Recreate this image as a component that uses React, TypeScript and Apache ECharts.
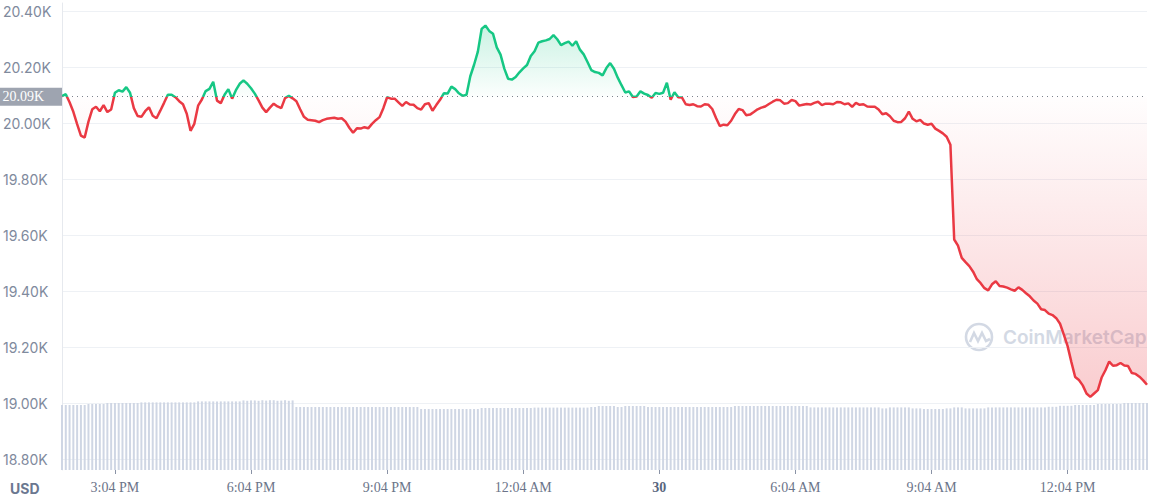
import React, { useEffect, useRef } from "react";
import * as echarts from "echarts";

// ---- data ----
const START_MINUTE = 834; // 13:54 on the 29th (minutes since midnight)
const STEP_MINUTES = 5;
const BASELINE = 20094; // opening price of the window

const PRICES = [
  20096, 20103, 20074, 20040, 19996, 19955, 19948, 20005, 20049, 20058,
  20042, 20064, 20039, 20048, 20108, 20117, 20112, 20128, 20108, 20053,
  20025, 20022, 20042, 20056, 20026, 20017, 20044, 20072, 20101, 20101,
  20092, 20078, 20067, 20033, 19972, 19997, 20062, 20084, 20114, 20122,
  20147, 20080, 20071, 20101, 20121, 20087, 20117, 20140, 20152, 20140,
  20124, 20105, 20081, 20055, 20039, 20055, 20069, 20059, 20053, 20089,
  20097, 20088, 20078, 20049, 20022, 20012, 20010, 20008, 20003, 20010,
  20015, 20017, 20019, 20015, 20017, 20005, 19983, 19965, 19981, 19980,
  19985, 19981, 19997, 20010, 20021, 20053, 20092, 20087, 20087, 20074,
  20061, 20075, 20066, 20065, 20053, 20048, 20067, 20071, 20044, 20064,
  20083, 20106, 20105, 20130, 20121, 20106, 20097, 20101, 20167, 20208,
  20255, 20336, 20348, 20329, 20319, 20270, 20244, 20194, 20158, 20155,
  20164, 20181, 20195, 20207, 20239, 20256, 20287, 20292, 20295, 20300,
  20314, 20299, 20278, 20285, 20291, 20276, 20292, 20262, 20245, 20218,
  20189, 20182, 20179, 20170, 20196, 20214, 20194, 20162, 20135, 20109,
  20113, 20093, 20095, 20113, 20105, 20100, 20090, 20107, 20104, 20108,
  20144, 20083, 20110, 20092, 20091, 20067, 20064, 20067, 20060, 20059,
  20067, 20065, 20050, 20018, 19989, 19994, 19992, 20008, 20032, 20050,
  20046, 20028, 20030, 20039, 20049, 20055, 20059, 20068, 20076, 20083,
  20081, 20069, 20071, 20082, 20078, 20062, 20065, 20068, 20066, 20072,
  20076, 20064, 20069, 20069, 20067, 20075, 20074, 20067, 20070, 20058,
  20072, 20065, 20067, 20059, 20058, 20058, 20048, 20031, 20035, 20024,
  20008, 20003, 20004, 20017, 20041, 20015, 20006, 20011, 19998, 19994,
  19997, 19980, 19972, 19963, 19951, 19922, 19584, 19562, 19518, 19503,
  19489, 19469, 19442, 19428, 19410, 19402, 19424, 19435, 19418, 19416,
  19412, 19406, 19401, 19413, 19404, 19392, 19381, 19366, 19355, 19335,
  19332, 19319, 19314, 19303, 19283, 19244, 19203, 19146, 19093, 19082,
  19063, 19034, 19022, 19034, 19046, 19091, 19117, 19148, 19133, 19135,
  19143, 19134, 19132, 19107, 19104, 19094, 19081, 19065,
];

// 24h volume, billions USD
const VOLUMES_B = [
  32.5, 32.5, 32.5, 32.5, 32.5, 32.5, 32.5, 33.0, 33.0, 33.0,
  33.0, 33.0, 33.5, 33.5, 33.5, 33.5, 33.5, 33.5, 33.5, 33.5,
  33.5, 33.8, 33.8, 33.8, 33.8, 33.8, 33.8, 33.8, 33.8, 33.8,
  33.8, 33.8, 33.8, 33.8, 33.8, 33.8, 34.3, 34.3, 34.3, 34.3,
  34.3, 34.3, 34.3, 34.3, 34.3, 34.3, 34.3, 34.3, 34.8, 34.6,
  34.8, 34.8, 34.6, 34.9, 34.7, 34.9, 34.9, 34.6, 34.7, 34.9,
  34.6, 34.8, 31.5, 31.5, 31.5, 31.5, 31.5, 31.5, 31.5, 31.5,
  31.5, 31.5, 31.5, 31.5, 31.5, 31.5, 31.5, 31.5, 31.5, 31.5,
  31.5, 31.5, 31.5, 31.5, 31.5, 31.5, 31.5, 31.5, 31.5, 31.5,
  31.5, 31.5, 31.5, 31.5, 31.5, 30.5, 30.5, 30.5, 30.5, 30.5,
  30.5, 30.5, 30.5, 30.5, 30.5, 30.5, 30.5, 30.5, 30.5, 30.5,
  30.5, 31.0, 31.0, 31.0, 31.0, 31.0, 31.0, 31.0, 31.0, 31.0,
  31.0, 31.0, 31.0, 31.0, 31.0, 31.2, 31.2, 31.2, 31.2, 31.2,
  31.2, 31.2, 31.2, 31.2, 31.2, 31.2, 31.2, 31.2, 31.2, 31.2,
  31.5, 31.5, 32.0, 32.0, 32.0, 32.0, 32.0, 31.5, 31.5, 32.0,
  32.0, 32.0, 32.0, 32.0, 32.0, 31.5, 31.5, 31.5, 31.5, 31.5,
  31.5, 31.5, 31.5, 31.5, 31.5, 31.5, 31.5, 31.5, 31.5, 31.5,
  31.5, 31.5, 31.5, 31.5, 31.5, 31.5, 31.5, 31.5, 32.0, 32.0,
  32.0, 32.0, 32.0, 32.0, 32.0, 32.0, 32.0, 32.0, 32.0, 32.0,
  32.0, 32.0, 32.0, 32.0, 32.0, 32.0, 32.0, 32.0, 31.3, 31.3,
  31.3, 31.3, 31.3, 31.3, 31.3, 31.3, 31.3, 31.3, 31.3, 31.3,
  31.3, 31.3, 31.3, 31.3, 31.3, 31.3, 31.3, 30.8, 30.8, 31.3,
  31.3, 31.3, 31.3, 31.3, 31.3, 30.8, 30.8, 30.8, 30.5, 30.5,
  30.5, 30.5, 30.5, 30.5, 30.8, 30.8, 31.3, 31.3, 31.3, 30.8,
  30.8, 30.8, 30.8, 30.8, 30.8, 31.3, 31.3, 31.3, 31.3, 31.3,
  31.3, 31.3, 31.3, 31.3, 31.3, 31.3, 31.3, 31.3, 31.3, 31.3,
  31.3, 31.6, 31.6, 31.6, 32.1, 32.1, 32.1, 32.1, 32.5, 32.5,
  32.5, 32.5, 32.5, 32.5, 33.0, 33.0, 33.0, 33.0, 33.0, 33.0,
  33.0, 33.5, 33.5, 33.5, 33.5, 33.5, 33.5, 33.5,
];

const X_TICK_MINUTES = [904, 1084, 1264, 1444, 1624, 1804, 1984, 2164];
const X_TICK_LABELS = ["3:04 PM", "6:04 PM", "9:04 PM", "12:04 AM", "30", "6:04 AM", "9:04 AM", "12:04 PM"];

const Y_MIN = 18800;
const Y_MAX = 20400;
const Y_STEP = 200;
const VOLUME_AXIS_MAX = 233.5;

const GREEN = "#16c784";
const RED = "#ea3943";

const LOGO_PATH =
  "M28 15A13 13 0 1 1 2 15A13 13 0 1 1 28 15Z M6 20 L10 11 L14 19 L18 11 L22 19 L26 17";
echarts.graphic.registerShape("cmclogo", echarts.graphic.extendPath(LOGO_PATH, {}));

export default function App() {
  const ref = useRef<HTMLDivElement>(null);

  useEffect(() => {
    const chart = echarts.init(ref.current as HTMLDivElement, null, { renderer: "svg" });
    const categories = PRICES.map((_, i) => String(START_MINUTE + i * STEP_MINUTES));
    const upData = PRICES.map((v) => Math.max(v, BASELINE));
    const downData = PRICES.map((v) => Math.min(v, BASELINE));
    const baseLabel = (Math.floor(BASELINE / 10) / 100).toFixed(2) + "K";
    const isTick = (_i: number, val: string) => X_TICK_MINUTES.indexOf(Number(val)) >= 0;

    const option: any = {
      animation: false,
      grid: [
        { left: 62, right: 29, top: 11, bottom: 43 },
        { left: 62, right: 29, top: 3, bottom: 32 },
      ],
      xAxis: [
        { gridIndex: 0, type: "category", data: categories, boundaryGap: false, show: false },
        {
          gridIndex: 1,
          type: "category",
          data: categories,
          boundaryGap: false,
          axisLine: { show: false },
          splitLine: { show: false },
          axisTick: {
            show: true,
            interval: isTick,
            length: 4,
            lineStyle: { color: "#8a93a6" },
          },
          axisLabel: {
            interval: isTick,
            margin: 10,
            fontFamily: '"Liberation Serif", serif',
            fontSize: 14,
            color: "#6b7489",
            formatter: (v: string) => {
              const s = X_TICK_LABELS[X_TICK_MINUTES.indexOf(Number(v))] ?? "";
              return s.includes(":") ? s : "{b|" + s + "}";
            },
            rich: {
              b: {
                fontFamily: '"Liberation Serif", serif',
                fontSize: 14,
                fontWeight: "bold",
                color: "#58667e",
              },
            },
          },
        },
      ],
      yAxis: [
        {
          gridIndex: 0,
          type: "value",
          min: Y_MIN,
          max: Y_MAX,
          interval: Y_STEP,
          axisLine: { show: false },
          axisTick: { show: false },
          splitLine: { lineStyle: { color: "#eef1f5", width: 1 } },
          axisLabel: {
            align: "left",
            margin: 59,
            fontFamily: "Inter",
            fontSize: 14,
            color: "#808a9d",
            formatter: (v: number) => (v / 1000).toFixed(2) + "K",
          },
        },
        {
          gridIndex: 1,
          type: "value",
          min: 0,
          max: VOLUME_AXIS_MAX,
          axisLine: { show: true, lineStyle: { color: "#e6e9ee" } },
          axisTick: { show: false },
          axisLabel: { show: false },
          splitLine: { show: false },
        },
      ],
      visualMap: {
        type: "piecewise",
        show: false,
        seriesIndex: 3,
        dimension: 1,
        pieces: [
          { gte: Y_MIN, lt: BASELINE, color: RED },
          { gte: BASELINE, lte: Y_MAX, color: GREEN },
        ],
      },
      graphic: [
        {
          type: "text",
          left: 10,
          top: 481,
          style: { text: "USD", font: "bold 14px Inter", fill: "#6b7790" },
        },
        {
          type: "cmclogo",
          x: 964,
          y: 322,
          style: { fill: "none", stroke: "#d3d9e4", lineWidth: 2.6 },
        },
        {
          type: "text",
          x: 1003,
          y: 337,
          style: {
            text: "CoinMarketCap",
            font: "600 19px Inter",
            fill: "#d3d9e4",
            verticalAlign: "middle",
          },
        },
      ],
      series: [
        {
          type: "bar",
          xAxisIndex: 1,
          yAxisIndex: 1,
          data: VOLUMES_B,
          barWidth: 2,
          silent: true,
          itemStyle: { color: "#cfd6e4" },
        },
        {
          type: "line",
          xAxisIndex: 0,
          yAxisIndex: 0,
          data: upData,
          showSymbol: false,
          symbol: "none",
          silent: true,
          lineStyle: { opacity: 0, width: 0 },
          areaStyle: {
            origin: BASELINE,
            color: new echarts.graphic.LinearGradient(0, 0, 0, 1, [
              { offset: 0, color: "rgba(22,199,132,0.32)" },
              { offset: 1, color: "rgba(22,199,132,0.02)" },
            ]),
          },
        },
        {
          type: "line",
          xAxisIndex: 0,
          yAxisIndex: 0,
          data: downData,
          showSymbol: false,
          symbol: "none",
          silent: true,
          lineStyle: { opacity: 0, width: 0 },
          areaStyle: {
            origin: BASELINE,
            color: new echarts.graphic.LinearGradient(0, 0, 0, 1, [
              { offset: 0, color: "rgba(234,57,67,0.01)" },
              { offset: 1, color: "rgba(234,57,67,0.36)" },
            ]),
          },
        },
        {
          type: "line",
          xAxisIndex: 0,
          yAxisIndex: 0,
          data: PRICES,
          showSymbol: false,
          symbol: "none",
          lineStyle: { width: 2.5 },
          markLine: {
            silent: true,
            symbol: ["none", "none"],
            lineStyle: { type: [1, 4], color: "#7d828c", width: 1 },
            label: {
              position: "start",
              distance: 0,
              formatter: () => baseLabel,
              backgroundColor: "#9ea4b0",
              color: "#ffffff",
              fontFamily: '"Liberation Serif", serif',
              fontSize: 14,
              padding: [2, 18, 2, 3],
            },
            data: [{ yAxis: BASELINE }],
          },
        },
      ],
    };

    chart.setOption(option);
    return () => chart.dispose();
  }, []);

  return (
    <div
      ref={ref}
      style={{ position: "absolute", left: 0, top: 0, width: 1176, height: 502 }}
    />
  );
}
